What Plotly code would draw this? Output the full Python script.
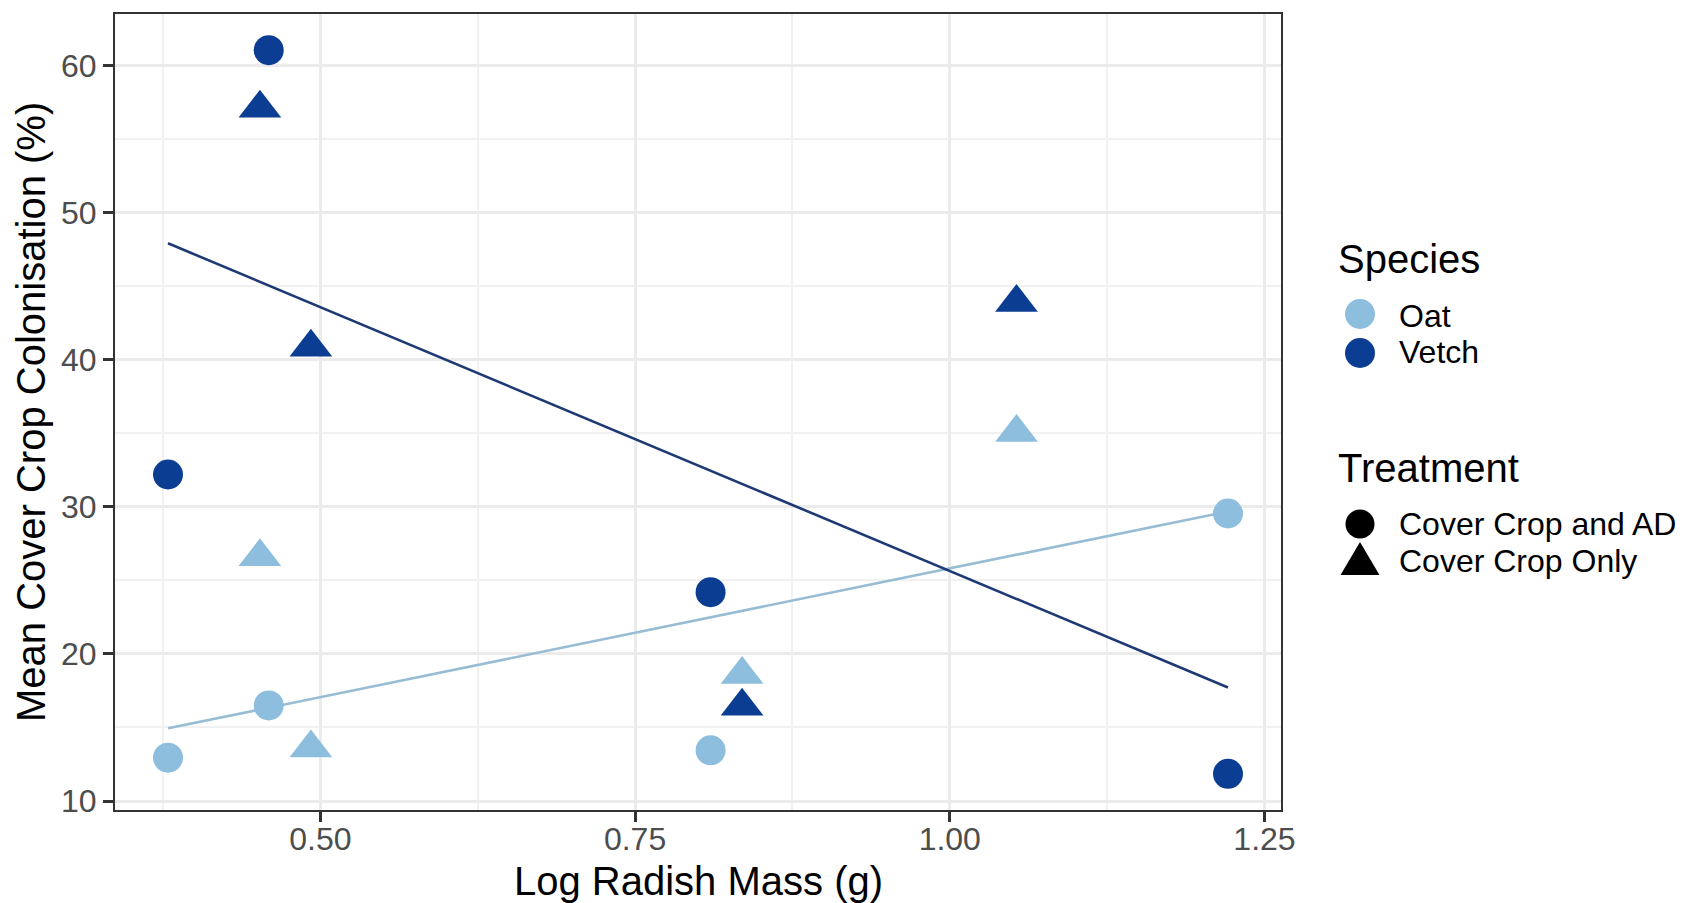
import numpy as np
import plotly.graph_objects as go

# ---------------- data ----------------
species = ["Oat", "Vetch"]
treatments = ["Cover Crop and AD", "Cover Crop Only"]

# Log radish mass (g) for each pot, per treatment
radish_ad = [0.379, 0.459, 0.810, 1.221]
radish_only = [0.452, 0.4925, 0.835, 1.053]

# Mean cover crop colonisation (%)
oat_ad = [12.95, 16.5, 13.45, 29.55]
oat_only = [26.6, 13.6, 18.6, 35.05]
vetch_ad = [32.2, 61.05, 24.2, 11.85]
vetch_only = [57.1, 40.85, 16.45, 43.9]

x_tick_labels = ["0.50", "0.75", "1.00", "1.25"]
x_title = "Log Radish Mass (g)"
y_title = "Mean Cover Crop Colonisation (%)"

# ---------------- style ----------------
FONT = "Liberation Sans, Arial, Helvetica, sans-serif"
OAT = "#8DBEDE"
VETCH = "#0B3E92"
OAT_LINE = "#97BCD4"
VETCH_LINE = "#1E3A74"
colors = {"Oat": OAT, "Vetch": VETCH}
line_colors = {"Oat": OAT_LINE, "Vetch": VETCH_LINE}
symbols = {"Cover Crop and AD": "circle", "Cover Crop Only": "triangle-up"}
sizes = {"Cover Crop and AD": 30, "Cover Crop Only": 37}

W, H = 1686, 903
ML, MR, MT, MB = 115, 405, 14, 93
PW, PH = W - ML - MR, H - MT - MB

data = {
    ("Oat", "Cover Crop and AD"): (radish_ad, oat_ad),
    ("Oat", "Cover Crop Only"): (radish_only, oat_only),
    ("Vetch", "Cover Crop and AD"): (radish_ad, vetch_ad),
    ("Vetch", "Cover Crop Only"): (radish_only, vetch_only),
}

fig = go.Figure()

# linear fits per species (like geom_smooth(method = "lm", se = FALSE))
for sp in species:
    xs = np.array(data[(sp, treatments[0])][0] + data[(sp, treatments[1])][0])
    ys = np.array(data[(sp, treatments[0])][1] + data[(sp, treatments[1])][1])
    slope, intercept = np.polyfit(xs, ys, 1)
    xl = np.array([xs.min(), xs.max()])
    fig.add_trace(go.Scatter(x=xl, y=intercept + slope * xl, mode="lines",
                             line=dict(color=line_colors[sp], width=2.6),
                             showlegend=False, hoverinfo="skip"))

# points
for sp in species:
    for tr in treatments:
        xs, ys = data[(sp, tr)]
        fig.add_trace(go.Scatter(x=xs, y=ys, mode="markers",
                                 marker=dict(symbol=symbols[tr], size=sizes[tr],
                                             color=colors[sp], line=dict(width=0)),
                                 name=f"{sp} - {tr}", showlegend=False))

# ggplot-like 5% expansion
all_x = radish_ad + radish_only
all_y = oat_ad + oat_only + vetch_ad + vetch_only
xspan = max(all_x) - min(all_x)
yspan = max(all_y) - min(all_y)
xr = [min(all_x) - 0.05 * xspan, max(all_x) + 0.05 * xspan]
yr = [min(all_y) - 0.05 * yspan, max(all_y) + 0.05 * yspan]

axis_common = dict(
    showgrid=True, gridcolor="#EBEBEB", gridwidth=2.6,
    zeroline=False, showline=True, mirror=True,
    linecolor="#333333", linewidth=2,
    ticks="outside", ticklen=10, tickwidth=2.6, tickcolor="#333333",
    tickfont=dict(family=FONT, size=32, color="#4D4D4D"),
    automargin=False,
)


# ---------------- helpers for pixel placement of titles / legend ----------------
def px_x(px):
    return (px - ML) / PW


def px_y(py):
    return (H - MB - py) / PH


annotations = []
shapes = []


def add_text(text, px, py, size, xanchor="left", angle=0):
    annotations.append(dict(text=text, x=px_x(px), y=px_y(py), xref="paper", yref="paper",
                            xanchor=xanchor, yanchor="middle", showarrow=False,
                            textangle=angle,
                            font=dict(family=FONT, size=size, color="black")))


def add_circle(cx, cy, d, color):
    shapes.append(dict(type="circle", xref="paper", yref="paper",
                       x0=px_x(cx - d / 2), x1=px_x(cx + d / 2),
                       y0=px_y(cy + d / 2), y1=px_y(cy - d / 2),
                       fillcolor=color, line=dict(width=0)))


def add_triangle(cx, cy, w, h, color):
    # centroid at (cx, cy)
    top = cy - 2 * h / 3
    bot = cy + h / 3
    path = (f"M {px_x(cx - w / 2)},{px_y(bot)} L {px_x(cx + w / 2)},{px_y(bot)} "
            f"L {px_x(cx)},{px_y(top)} Z")
    shapes.append(dict(type="path", xref="paper", yref="paper", path=path,
                       fillcolor=color, line=dict(width=0)))


# axis titles
add_text(x_title, ML + PW / 2, 881, 40, xanchor="center")
add_text(y_title, 31, MT + PH / 2, 40, xanchor="center", angle=-90)

# legend (two guides, ggplot style)
KEY_X = 1360
TEXT_X = 1397
TITLE_X = 1336

add_text("Species", TITLE_X, 259, 40)
for sp, ky, ty in zip(species, [314, 353], [316, 352]):
    add_circle(KEY_X, ky, 30, colors[sp])
    add_text(sp, TEXT_X, ty, 32)

add_text("Treatment", TITLE_X, 468, 40)
add_circle(KEY_X, 524, 29, "black")
add_text(treatments[0], TEXT_X, 524, 32)
add_triangle(KEY_X, 564, 39, 33, "black")
add_text(treatments[1], TEXT_X, 561, 32)

fig.update_layout(
    width=W, height=H,
    margin=dict(l=ML, r=MR, t=MT, b=MB),
    paper_bgcolor="white", plot_bgcolor="white",
    font=dict(family=FONT, color="black"),
    showlegend=False,
    xaxis=dict(range=xr, tickmode="array", tickvals=[float(t) for t in x_tick_labels],
               ticktext=x_tick_labels, ticklabelstandoff=-10,
               minor=dict(tick0=0.375, dtick=0.25, showgrid=True,
                          gridcolor="#F1F1F1", gridwidth=1.6, ticks=""),
               **axis_common),
    yaxis=dict(range=yr, tickmode="linear", tick0=10, dtick=10,
               minor=dict(tick0=5, dtick=10, showgrid=True,
                          gridcolor="#F1F1F1", gridwidth=1.6, ticks=""),
               **axis_common),
    annotations=annotations,
    shapes=shapes,
)

fig.write_html("out.html")
